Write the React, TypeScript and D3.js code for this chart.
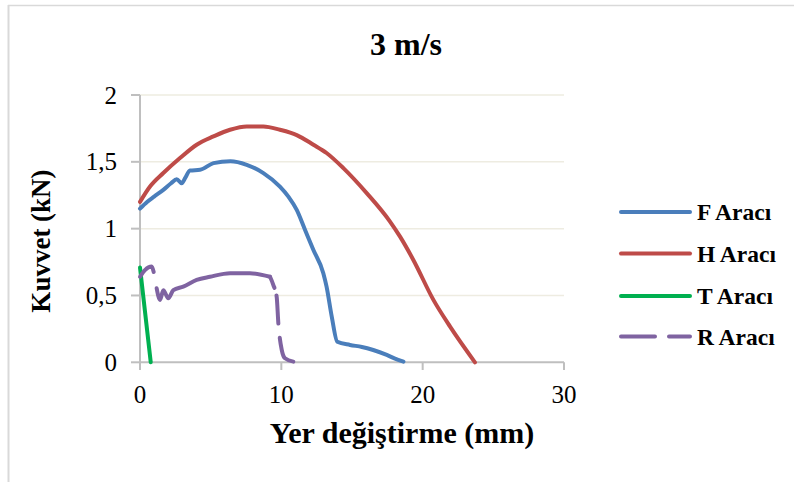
import React from "react";
import * as d3 from "d3";

const title = "3 m/s";
const xTitle = "Yer değiştirme (mm)";
const yTitle = "Kuvvet (kN)";
const xTicks = [0, 10, 20, 30];
const yTicks = [0, 0.5, 1, 1.5, 2];
const seriesNames = ["F Aracı", "H Aracı", "T Aracı", "R Aracı"];

const fX = [0, 0.5, 1.0, 1.65, 2.2, 2.6, 2.95, 3.2, 3.54, 4.25, 5.2, 6.4, 7.55, 8.73, 9.9, 10.5, 11.09, 11.68, 12.27, 12.97, 13.2, 13.57, 13.96, 14.86, 15.7, 16.5, 17.46, 18.0, 18.64];
const fY = [1.15, 1.2, 1.24, 1.29, 1.34, 1.37, 1.34, 1.38, 1.435, 1.44, 1.49, 1.505, 1.478, 1.416, 1.315, 1.24, 1.14, 0.99, 0.84, 0.667, 0.566, 0.34, 0.154, 0.13, 0.115, 0.092, 0.055, 0.03, 0.005];

const hX = [0, 0.71, 1.65, 2.83, 4.01, 5.2, 6.37, 7.55, 8.73, 9.9, 11.09, 12.27, 13.2, 14.39, 16.04, 17.69, 18.4, 19.34, 20.76, 21.94, 23.7];
const hY = [1.2, 1.315, 1.416, 1.528, 1.628, 1.69, 1.74, 1.765, 1.765, 1.74, 1.7, 1.628, 1.566, 1.453, 1.266, 1.053, 0.94, 0.766, 0.467, 0.267, 0.0];

const tX = [0, 0.76];
const tY = [0.71, 0.0];

const rX = [0, 0.35, 0.83, 0.97, 1.18, 1.42, 1.65, 2.0, 2.36, 3.06, 4.01, 4.95, 6.37, 7.78, 9.2, 9.43, 9.67, 9.79, 10.03, 10.26, 10.85];
const rY = [0.64, 0.69, 0.716, 0.675, 0.554, 0.467, 0.54, 0.48, 0.54, 0.566, 0.616, 0.64, 0.667, 0.667, 0.64, 0.58, 0.49, 0.29, 0.092, 0.03, 0.005];
// runs of the dashed R series: [start index, end index, dash pattern]
const rRuns: [number, number, string | undefined][] = [
  [0, 3, undefined],
  [4, 14, undefined],
  [14, 20, "12,8,28,14,60"],
];

const colors = ["#4A7EBB", "#BE4B48", "#00B050", "#7F63A1"];

export default function App() {
  const W = 794, H = 482;
  const x = d3.scaleLinear().domain([0, 30]).range([140, 564]);
  const y = d3.scaleLinear().domain([0, 2]).range([362.3, 95]);
  const series = [
    { xs: fX, ys: fY },
    { xs: hX, ys: hY },
    { xs: tX, ys: tY },
  ];
  const line = d3
    .line<[number, number]>()
    .x((d) => x(d[0]))
    .y((d) => y(d[1]))
    .curve(d3.curveMonotoneX);
  const serif = "'Liberation Serif', 'Times New Roman', serif";
  const legendY = [212, 253.5, 296, 336.5];
  const rPts = rX.map((v, j) => [v, rY[j]] as [number, number]);

  return (
    <svg width={W} height={H} style={{ position: "absolute", left: 0, top: 0, background: "#fff" }} fontFamily={serif}>
      <rect x={0} y={0} width={W} height={H} fill="#fff" />
      <line x1={8.5} y1={5} x2={8.5} y2={H} stroke="#D9D9D9" strokeWidth={2} />
      <line x1={8} y1={5.5} x2={W} y2={5.5} stroke="#D9D9D9" strokeWidth={1.5} />
      <text x={406} y={55} textAnchor="middle" fontWeight="bold" fontSize={32}>{title}</text>
      {yTicks.map((t) => (
        <line key={"g" + t} x1={140} x2={564} y1={y(t)} y2={y(t)} stroke={t === 0 ? "#BFBFBF" : "#EEECE1"} strokeWidth={t === 0 ? 2 : 1.5} />
      ))}
      <line x1={140} x2={140} y1={95} y2={362.3} stroke="#BFBFBF" strokeWidth={2} />
      {yTicks.map((t) => (
        <g key={"yt" + t}>
          <line x1={131} x2={140} y1={y(t)} y2={y(t)} stroke="#BFBFBF" strokeWidth={2} />
          <text x={117} y={y(t) + 8.5} textAnchor="end" fontSize={25}>{String(t).replace(".", ",")}</text>
        </g>
      ))}
      {xTicks.map((t) => (
        <g key={"xt" + t}>
          <line x1={x(t)} x2={x(t)} y1={362.3} y2={370} stroke="#BFBFBF" strokeWidth={2} />
          <text x={x(t)} y={403} textAnchor="middle" fontSize={25}>{t}</text>
        </g>
      ))}
      <text x={402} y={443} textAnchor="middle" fontWeight="bold" fontSize={30}>{xTitle}</text>
      <text transform="translate(50,241) rotate(-90)" textAnchor="middle" fontWeight="bold" fontSize={27}>{yTitle}</text>
      {series.map((s, i) => (
        <path
          key={"s" + i}
          d={line(s.xs.map((v, j) => [v, s.ys[j]] as [number, number])) || ""}
          fill="none"
          stroke={colors[i]}
          strokeWidth={4}
          strokeLinecap="round"
          strokeLinejoin="round"
        />
      ))}
      {rRuns.map(([a, b, dash], k) => (
        <path
          key={"r" + k}
          d={line(rPts.slice(a, b + 1)) || ""}
          fill="none"
          stroke={colors[3]}
          strokeWidth={4}
          strokeLinecap="round"
          strokeLinejoin="round"
          strokeDasharray={dash}
        />
      ))}
      {seriesNames.map((n, i) => (
        <g key={"l" + i}>
          <line x1={621} x2={690} y1={legendY[i]} y2={legendY[i]} stroke={colors[i]} strokeWidth={4} strokeLinecap="round" strokeDasharray={i === 3 ? "34,14" : undefined} />
          <text x={697} y={legendY[i] + 8} fontWeight="bold" fontSize={23.5}>{n}</text>
        </g>
      ))}
    </svg>
  );
}
